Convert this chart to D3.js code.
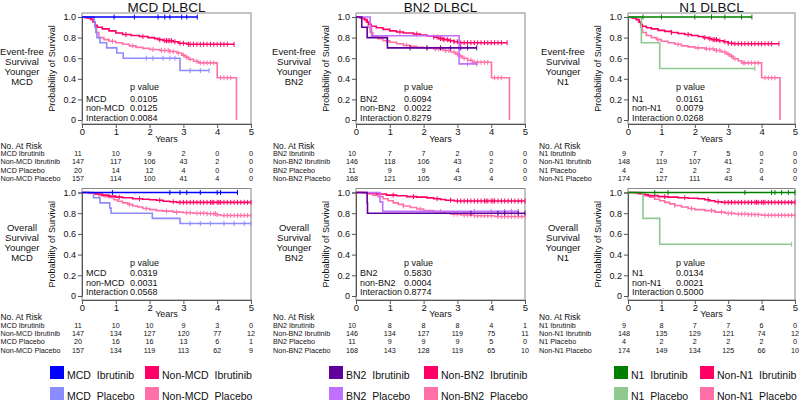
<!DOCTYPE html>
<html><head><meta charset="utf-8">
<script src="https://cdn.jsdelivr.net/npm/d3@7/dist/d3.min.js"></script>
<style>
body{margin:0;background:#fff}
text{font-family:"Liberation Sans",Arial,Helvetica,sans-serif;fill:#111}
</style>
</head><body>
<svg id="chart" width="800" height="402"></svg>
<script>
// ---------------- DATA ----------------
const years = [0,1,2,3,4,5];
const yTicks = [0,0.2,0.4,0.6,0.8,1.0];
const yTickLabels = ["0","0.2","0.4","0.6","0.8","1.0"];
const subtypes = ["MCD","BN2","N1"];
const titles = ["MCD DLBCL","BN2 DLBCL","N1 DLBCL"];
const endpointLines = [["Event-free","Survival","Younger"],["Overall","Survival","Younger"]];
const treatments = ["Ibrutinib","Placebo"];

// p values [subtype, non-subtype, interaction]
const pEFS_MCD = ["0.0105","0.0125","0.0084"];
const pOS_MCD  = ["0.0319","0.0031","0.0568"];
const pEFS_BN2 = ["0.6094","0.0022","0.8279"];
const pOS_BN2  = ["0.5830","0.0004","0.8774"];
const pEFS_N1  = ["0.0161","0.0079","0.0268"];
const pOS_N1   = ["0.0134","0.0021","0.5000"];

// numbers at risk, rows: X Ibrutinib, Non-X Ibrutinib, X Placebo, Non-X Placebo
const riskEFS_MCD = [[11,10,9,2,0,0],[147,117,106,43,2,0],[20,14,12,4,0,0],[157,114,100,41,4,0]];
const riskOS_MCD  = [[11,10,10,9,3,0],[147,134,127,120,77,12],[20,16,16,13,6,1],[157,134,119,113,62,9]];
const riskEFS_BN2 = [[10,7,7,2,0,0],[146,118,106,43,2,0],[11,9,9,4,0,0],[168,121,105,43,4,0]];
const riskOS_BN2  = [[10,8,8,8,4,1],[146,134,127,119,75,11],[11,9,9,9,5,0],[168,143,128,119,65,10]];
const riskEFS_N1  = [[9,7,7,5,0,0],[148,119,107,41,2,0],[4,2,2,2,0,0],[174,127,111,43,4,0]];
const riskOS_N1   = [[9,8,7,7,6,0],[148,135,129,121,74,12],[4,2,2,2,2,0],[174,149,134,125,66,10]];

// Kaplan-Meier curves: steps = [time, survival after drop], end = last follow-up, cens = censor times
// ---- EFS MCD
const efsMCD_ibr = {steps:[], end:3.41, cens:[0.95,1.55,2.25,2.45,2.6,2.95,3.1,3.41]};
const efsMCD_pla = {steps:[[0.36,0.95],[0.38,0.9],[0.41,0.85],[0.44,0.8],[0.53,0.75],[0.73,0.7],[1.03,0.65],[1.22,0.6],[2.9,0.48]], end:3.76, cens:[1.9,2.1,2.4,2.6,2.75,3.2,3.5,3.76]};
const efsMCD_nonIbr = {steps:[[0.15,0.99],[0.25,0.98],[0.33,0.95],[0.38,0.92],[0.45,0.9],[0.6,0.885],[0.8,0.865],[1.0,0.845],[1.2,0.83],[1.45,0.82],[1.7,0.81],[1.95,0.8],[2.15,0.79],[2.25,0.78],[2.4,0.77],[2.7,0.76],[2.85,0.745],[3.1,0.735]], end:4.5,
  cens:[1.3,1.8,2.3,2.45,2.5,2.55,2.6,2.65,2.75,2.9,3.0,3.15,3.2,3.3,3.4,3.5,3.6,3.7,3.8,3.9,4.0,4.1,4.2,4.3,4.5]};
const efsMCD_nonPla = {steps:[[0.1,0.99],[0.25,0.975],[0.33,0.95],[0.38,0.9],[0.43,0.85],[0.5,0.8],[0.65,0.78],[0.8,0.765],[1.0,0.75],[1.2,0.735],[1.4,0.72],[1.6,0.705],[1.8,0.695],[2.0,0.685],[2.3,0.675],[2.6,0.665],[2.8,0.65],[2.95,0.63],[3.05,0.61],[3.15,0.59],[3.3,0.57],[3.45,0.555],[4.0,0.41],[4.57,0]], end:4.57,
  cens:[0.9,1.5,2.1,2.35,2.45,2.55,2.6,2.7,2.85,3.0,3.1,3.2,3.4,3.5,3.6,3.7,3.8,3.9,4.1,4.2,4.3,4.4]};
// ---- OS MCD
const osMCD_ibr = {steps:[], end:4.6, cens:[0.9,2.6,2.9,3.1,3.5,4.0,4.1,4.6]};
const osMCD_pla = {steps:[[0.34,0.95],[0.53,0.9],[0.82,0.85],[0.86,0.8],[2.08,0.75],[2.9,0.7]], end:5.0, cens:[3.2,3.5,3.8,4.2,4.5,4.8,5.0]};
const osMCD_nonIbr = {steps:[[0.2,0.995],[0.4,0.985],[0.6,0.975],[0.8,0.965],[1.0,0.955],[1.2,0.95],[1.5,0.94],[1.8,0.935],[2.0,0.93],[2.2,0.925],[2.4,0.915],[2.6,0.91],[2.8,0.905]], end:5.0,
  cens:[1.1,1.7,2.3,2.7,2.9,3.0,3.1,3.2,3.3,3.4,3.5,3.6,3.7,3.8,3.85,3.9,4.0,4.05,4.1,4.2,4.3,4.4,4.5,4.6,4.7,4.8,4.9,5.0]};
const osMCD_nonPla = {steps:[[0.2,0.995],[0.35,0.985],[0.5,0.97],[0.65,0.96],[0.8,0.95],[0.95,0.93],[1.05,0.915],[1.2,0.9],[1.35,0.885],[1.5,0.87],[1.65,0.86],[1.8,0.845],[2.0,0.835],[2.2,0.825],[2.4,0.82],[2.7,0.81],[3.0,0.805],[3.3,0.8],[3.7,0.795],[4.0,0.785],[4.1,0.778]], end:5.0,
  cens:[1.4,1.9,2.5,2.8,3.1,3.2,3.4,3.5,3.6,3.7,3.8,3.9,3.95,4.0,4.2,4.3,4.4,4.5,4.6,4.7,4.8,4.9,5.0]};
// ---- EFS BN2
const efsBN2_ibr = {steps:[[0.17,0.9],[0.33,0.8],[0.93,0.7]], end:3.57, cens:[1.6,2.1,2.5,2.8,3.1,3.3,3.57]};
const efsBN2_pla = {steps:[[0.42,0.909],[0.46,0.818],[3.05,0.545]], end:3.57, cens:[3.3,3.57]};
const efsBN2_nonIbr = {steps:[[0.15,0.99],[0.25,0.975],[0.33,0.95],[0.38,0.93],[0.45,0.91],[0.6,0.895],[0.8,0.88],[1.0,0.865],[1.2,0.855],[1.4,0.845],[1.7,0.835],[1.9,0.825],[2.1,0.815],[2.3,0.805],[2.45,0.79],[2.6,0.78],[2.75,0.77],[2.9,0.76],[3.05,0.75]], end:4.47,
  cens:[1.3,1.8,2.3,2.4,2.5,2.55,2.6,2.7,2.8,2.9,3.0,3.1,3.2,3.3,3.4,3.5,3.6,3.7,3.8,3.9,4.0,4.1,4.2,4.3,4.47]};
const efsBN2_nonPla = {steps:[[0.1,0.99],[0.25,0.975],[0.3,0.95],[0.36,0.9],[0.42,0.85],[0.5,0.81],[0.65,0.79],[0.8,0.77],[1.0,0.755],[1.2,0.74],[1.4,0.725],[1.6,0.715],[1.8,0.705],[2.0,0.7],[2.3,0.69],[2.6,0.675],[2.8,0.66],[2.95,0.64],[3.05,0.62],[3.15,0.6],[3.3,0.58],[3.45,0.56],[4.01,0.41],[4.54,0]], end:4.54,
  cens:[0.9,1.5,2.1,2.35,2.45,2.55,2.65,2.75,2.9,3.0,3.1,3.2,3.4,3.5,3.6,3.7,3.8,3.9,4.1,4.2,4.3]};
// ---- OS BN2
const osBN2_ibr = {steps:[[0.33,0.9],[0.34,0.8]], end:5.0, cens:[3.4,4.2,4.4,4.8,5.0]};
const osBN2_pla = {steps:[[0.71,0.909],[0.79,0.818]], end:4.8, cens:[3.5,4.0,4.4,4.6,4.8]};
const osBN2_nonIbr = {steps:[[0.3,0.995],[0.6,0.985],[0.9,0.975],[1.2,0.968],[1.5,0.96],[1.8,0.955],[2.1,0.948],[2.3,0.94],[2.5,0.932],[2.65,0.925],[2.9,0.918]], end:5.0,
  cens:[1.1,1.7,2.4,2.8,3.0,3.1,3.2,3.3,3.4,3.5,3.6,3.7,3.8,3.85,3.9,4.0,4.05,4.1,4.2,4.3,4.4,4.5,4.6,4.7,4.8,4.9,5.0]};
const osBN2_nonPla = {steps:[[0.2,0.995],[0.35,0.985],[0.5,0.975],[0.65,0.96],[0.8,0.94],[0.95,0.92],[1.1,0.9],[1.25,0.885],[1.4,0.87],[1.6,0.855],[1.8,0.84],[2.0,0.825],[2.3,0.815],[2.6,0.8],[2.8,0.79],[3.1,0.782],[3.5,0.775],[4.1,0.768]], end:5.0,
  cens:[1.4,1.9,2.5,2.9,3.0,3.2,3.3,3.4,3.5,3.6,3.7,3.8,3.9,4.0,4.2,4.3,4.4,4.5,4.6,4.7,4.8,4.9,5.0]};
// ---- EFS N1
const efsN1_ibr = {steps:[], end:3.71, cens:[0.45,1.0,2.0,2.5,2.9,3.4,3.71]};
const efsN1_pla = {steps:[[0.4,0.75],[0.95,0.5]], end:3.8, cens:[3.8]};
const efsN1_nonIbr = {steps:[[0.15,0.99],[0.25,0.975],[0.33,0.95],[0.38,0.93],[0.43,0.91],[0.55,0.895],[0.7,0.885],[0.9,0.87],[1.1,0.86],[1.3,0.85],[1.5,0.84],[1.7,0.83],[1.9,0.82],[2.1,0.81],[2.25,0.8],[2.4,0.79],[2.5,0.78],[2.7,0.77],[2.85,0.76],[3.0,0.745],[3.15,0.74]], end:4.52,
  cens:[1.3,1.8,2.3,2.45,2.55,2.6,2.65,2.75,2.9,3.0,3.1,3.2,3.3,3.4,3.5,3.6,3.7,3.8,3.9,4.0,4.1,4.2,4.3,4.52]};
const efsN1_nonPla = {steps:[[0.1,0.99],[0.25,0.975],[0.33,0.95],[0.38,0.9],[0.43,0.85],[0.55,0.82],[0.7,0.8],[0.85,0.78],[1.0,0.765],[1.2,0.75],[1.4,0.735],[1.6,0.72],[1.8,0.71],[2.0,0.7],[2.3,0.69],[2.6,0.675],[2.8,0.66],[2.95,0.64],[3.05,0.62],[3.15,0.595],[3.3,0.575],[3.4,0.555],[4.0,0.41],[4.55,0]], end:4.55,
  cens:[0.9,1.5,2.1,2.35,2.45,2.55,2.65,2.75,2.9,3.0,3.1,3.2,3.45,3.5,3.6,3.7,3.8,3.9,4.1,4.2,4.3,4.4]};
// ---- OS N1
const osN1_ibr = {steps:[], end:5.0, cens:[0.8,1.2,3.5,4.3,4.4,4.6,4.8,5.0]};
const osN1_pla = {steps:[[0.45,0.75],[0.95,0.5]], end:4.9, cens:[4.9]};
const osN1_nonIbr = {steps:[[0.3,0.99],[0.45,0.98],[0.6,0.97],[0.9,0.96],[1.2,0.955],[1.5,0.95],[1.8,0.945],[2.1,0.94],[2.3,0.93],[2.45,0.92],[2.6,0.91],[2.8,0.905]], end:5.0,
  cens:[1.1,1.7,2.4,2.7,2.9,3.0,3.1,3.2,3.3,3.4,3.5,3.6,3.7,3.8,3.85,3.9,4.0,4.05,4.1,4.2,4.3,4.4,4.5,4.6,4.7,4.8,4.9,5.0]};
const osN1_nonPla = {steps:[[0.2,0.995],[0.35,0.985],[0.5,0.97],[0.65,0.955],[0.8,0.935],[0.95,0.92],[1.1,0.905],[1.25,0.89],[1.4,0.875],[1.6,0.86],[1.8,0.845],[2.0,0.835],[2.3,0.825],[2.6,0.81],[2.9,0.8],[3.2,0.792],[3.6,0.787],[4.0,0.78]], end:5.0,
  cens:[1.4,1.9,2.5,2.8,3.0,3.1,3.3,3.4,3.5,3.6,3.7,3.8,3.9,4.1,4.2,4.3,4.4,4.5,4.6,4.7,4.8,4.9,5.0]};

// colours: [X Ibrutinib, X Placebo]
const colSubIbr = ["#0000ff","#5e0099","#008000"];
const colSubPla = ["#8c8cff","#c070ff","#8fc98f"];
const colNonIbr = "#ff0066";
const colNonPla = "#ff70a8";

// ---------------- LAYOUT ----------------
const panelX0 = [82, 356, 628];
const panelW  = [169, 169, 167];
const rowTop  = [17, 192.5];   // y pixel of 1.0
const rowBot  = [120, 296];    // y pixel of 0
const tableHeadY = [145.6, 317.2];
const tableLabelX = [0.5, 273, 539];
const sideLabelX = [22, 294, 563];
const legendX = [[50,145],[329,424],[614,700]];

const curves = {
  0:{0:[efsMCD_nonPla,efsMCD_nonIbr,efsMCD_pla,efsMCD_ibr],1:[osMCD_nonPla,osMCD_nonIbr,osMCD_pla,osMCD_ibr]},
  1:{0:[efsBN2_nonPla,efsBN2_nonIbr,efsBN2_pla,efsBN2_ibr],1:[osBN2_nonPla,osBN2_nonIbr,osBN2_pla,osBN2_ibr]},
  2:{0:[efsN1_nonPla,efsN1_nonIbr,efsN1_pla,efsN1_ibr],1:[osN1_nonPla,osN1_nonIbr,osN1_pla,osN1_ibr]}
};
const risks = [[riskEFS_MCD,riskOS_MCD],[riskEFS_BN2,riskOS_BN2],[riskEFS_N1,riskOS_N1]];
const pvals = [[pEFS_MCD,pOS_MCD],[pEFS_BN2,pOS_BN2],[pEFS_N1,pOS_N1]];

const svg = d3.select("#chart");
const axisCol = "#555";

function survAt(c, t){ let s=1; for(const [tt,ss] of c.steps){ if(tt<=t) s=ss; } return s; }

subtypes.forEach((sub, p) => {
  const x = d3.scaleLinear().domain([0,5]).range([panelX0[p], panelX0[p]+panelW[p]]);
  const cx = (panelX0[p]*2+panelW[p])/2;
  svg.append("text").attr("x", cx).attr("y", 12).attr("text-anchor","middle")
     .style("font-size","13.5px").text(titles[p]);

  [0,1].forEach(r => {
    const y = d3.scaleLinear().domain([0,1]).range([rowBot[r], rowTop[r]]);
    const g = svg.append("g");
    const fy0 = y(1)-4, fy1 = y(0)+4;
    // frame
    g.append("rect").attr("x", x(0)).attr("y", fy0).attr("width", x(5)-x(0)).attr("height", fy1-fy0)
      .attr("fill","none").attr("stroke","#888").attr("stroke-width",1);
    // y axis
    const ya = g.append("g").attr("transform",`translate(${x(0)},0)`)
      .call(d3.axisLeft(y).tickValues(yTicks).tickSize(4).tickPadding(2).tickFormat((d,i)=>yTickLabels[i]));
    ya.select(".domain").attr("stroke",axisCol);
    ya.selectAll(".tick line").attr("stroke",axisCol);
    ya.selectAll("text").style("font-size","9px").attr("fill","#111");
    // x axis
    const xa = g.append("g").attr("transform",`translate(0,${fy1})`)
      .call(d3.axisBottom(x).tickValues(years).tickSize(4).tickPadding(0).tickFormat(d3.format("d")));
    xa.select(".domain").attr("stroke",axisCol);
    xa.selectAll(".tick line").attr("stroke",axisCol);
    xa.selectAll("text").style("font-size","9.5px").attr("fill","#111");
    g.append("text").attr("x", cx).attr("y", rowBot[r] + (r===0?21.5:21)).attr("text-anchor","middle")
      .style("font-size","9px").text("Years");
    // y title
    g.append("text").attr("transform",`translate(${x(0)-27},${(y(0)+y(1))/2}) rotate(-90)`)
      .attr("text-anchor","middle").style("font-size","9px").text("Probability of Survival");
    // side label
    const lines = endpointLines[r].concat([sub]);
    const midY = (y(0)+y(1))/2 - 2;
    lines.forEach((t,i)=>{
      g.append("text").attr("x", sideLabelX[p]).attr("y", midY + (i-1.5)*10).attr("dy","0.35em")
        .attr("text-anchor","middle").style("font-size","9.5px").text(t);
    });
    // curves
    const cols = [colNonPla, colNonIbr, colSubPla[p], colSubIbr[p]];
    const line = d3.line().x(d=>x(d[0])).y(d=>y(d[1])).curve(d3.curveStepAfter);
    curves[p][r].forEach((c,k)=>{
      const pts = [[0,1]].concat(c.steps);
      const last = pts[pts.length-1][1];
      pts.push([c.end,last]);
      g.append("path").attr("d", line(pts)).attr("fill","none").attr("stroke",cols[k]).attr("stroke-width",1.6);
      g.selectAll(null).data(c.cens).enter().append("line")
        .attr("x1",d=>x(d)).attr("x2",d=>x(d))
        .attr("y1",d=>y(survAt(c,d))-2.5).attr("y2",d=>y(survAt(c,d))+2.5)
        .attr("stroke",cols[k]).attr("stroke-width",1);
    });
    // p values
    const plab = [sub, "non-"+sub, "Interaction"];
    const base = y(0);
    const offs = r===0 ? [-32.7,-21.3,-12,-2.5] : [-33.5,-22.7,-13.3,-3.7];
    g.append("text").attr("x", x(0)+48).attr("y", base+offs[0]).attr("dy","0.35em").style("font-size","9px").text("p value");
    plab.forEach((t,i)=>{
      g.append("text").attr("x", x(0)+4).attr("y", base+offs[i+1]).attr("dy","0.35em").style("font-size","9px").text(t);
      g.append("text").attr("x", x(0)+48).attr("y", base+offs[i+1]).attr("dy","0.35em").style("font-size","9px").text(pvals[p][r][i]);
    });
    // risk table
    const ty = tableHeadY[r];
    g.append("text").attr("x", tableLabelX[p]).attr("y", ty).attr("dy","0.35em").style("font-size","8.4px").text("No. At Risk");
    const rowNames = [sub+" Ibrutinib","Non-"+sub+" Ibrutinib",sub+" Placebo","Non-"+sub+" Placebo"];
    risks[p][r].forEach((vals,i)=>{
      const yy = ty + 8 + i*8.33;
      g.append("text").attr("x", tableLabelX[p]).attr("y", yy).attr("dy","0.35em").style("font-size","7.2px").text(rowNames[i]);
      vals.forEach((v,j)=>{
        g.append("text").attr("x", x(years[j]) - (j===0?4:0)).attr("y", yy).attr("dy","0.35em")
          .attr("text-anchor","middle").style("font-size","7.2px").text(v);
      });
    });
  });

  // legend
  const legItems = [
    {col:colSubIbr[p], label:sub+"  Ibrutinib", lx:legendX[p][0], row:0},
    {col:colNonIbr,    label:"Non-"+sub+"  Ibrutinib", lx:legendX[p][1], row:0},
    {col:colSubPla[p], label:sub+"  Placebo", lx:legendX[p][0], row:1},
    {col:colNonPla,    label:"Non-"+sub+"  Placebo", lx:legendX[p][1], row:1}
  ];
  const legBase = [378.5, 399.5];
  legItems.forEach(it=>{
    svg.append("rect").attr("x", it.lx).attr("y", legBase[it.row]-12.5).attr("width",14).attr("height",13).attr("fill",it.col);
    svg.append("text").attr("x", it.lx+17).attr("y", legBase[it.row]).style("font-size","10.5px")
      .style("white-space","pre").text(it.label);
  });
});
</script>
</body></html>
